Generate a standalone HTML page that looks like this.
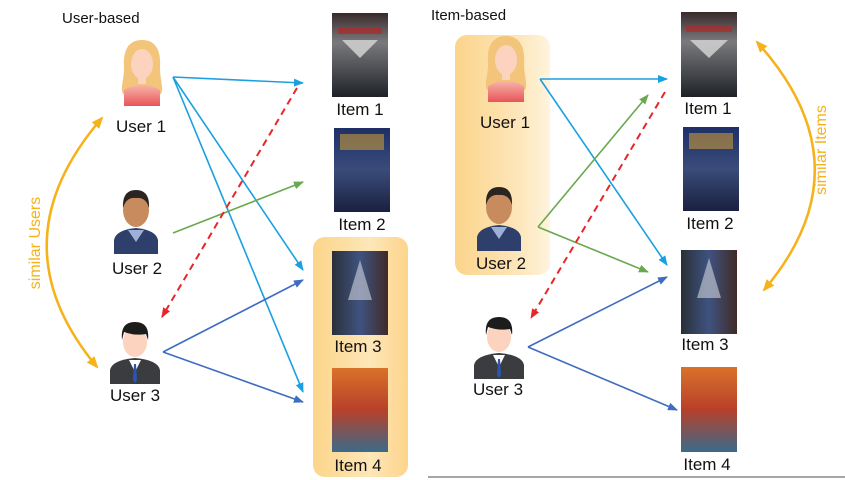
<!DOCTYPE html>
<html><head><meta charset="utf-8"><style>
html,body{margin:0;padding:0;background:#fff;}
svg{display:block;font-family:"Liberation Sans",sans-serif;}
</style></head><body>
<svg width="845" height="480" viewBox="0 0 845 480" xmlns="http://www.w3.org/2000/svg">
<defs>
<linearGradient id="hl" x1="0" y1="0" x2="1" y2="0">
<stop offset="0" stop-color="#fcd58a"/><stop offset="0.6" stop-color="#fde6b8"/><stop offset="1" stop-color="#fdd48c"/>
</linearGradient>
<linearGradient id="hl2" x1="0" y1="0" x2="1" y2="0">
<stop offset="0" stop-color="#fcd48a"/><stop offset="0.7" stop-color="#fde7bd"/><stop offset="1" stop-color="#fff4dd"/>
</linearGradient>
<linearGradient id="p1" x1="0" y1="0" x2="0" y2="1"><stop offset="0" stop-color="#3a2a2a"/><stop offset="0.35" stop-color="#7a7a7e"/><stop offset="1" stop-color="#1e2226"/></linearGradient>
<linearGradient id="p2" x1="0" y1="0" x2="0" y2="1"><stop offset="0" stop-color="#1d2f66"/><stop offset="0.5" stop-color="#3a4c7a"/><stop offset="1" stop-color="#1a2040"/></linearGradient>
<linearGradient id="p3" x1="0" y1="0" x2="1" y2="0"><stop offset="0" stop-color="#2a3038"/><stop offset="0.5" stop-color="#3f5380"/><stop offset="1" stop-color="#402a26"/></linearGradient>
<linearGradient id="p4" x1="0" y1="0" x2="0" y2="1"><stop offset="0" stop-color="#d9722a"/><stop offset="0.5" stop-color="#b8402a"/><stop offset="1" stop-color="#3a6a8a"/></linearGradient>
<linearGradient id="pink" x1="0" y1="0" x2="0" y2="1"><stop offset="0" stop-color="#f7b5a8"/><stop offset="1" stop-color="#e9545a"/></linearGradient>
<marker id="ab" markerWidth="10" markerHeight="8" refX="9" refY="4" orient="auto" markerUnits="userSpaceOnUse"><path d="M0,0 L10,4 L0,8 z" fill="#1aa0e0"/></marker>
<marker id="ag" markerWidth="10" markerHeight="8" refX="9" refY="4" orient="auto" markerUnits="userSpaceOnUse"><path d="M0,0 L10,4 L0,8 z" fill="#6aa84f"/></marker>
<marker id="ar" markerWidth="10" markerHeight="8" refX="9" refY="4" orient="auto" markerUnits="userSpaceOnUse"><path d="M0,0 L10,4 L0,8 z" fill="#e8262a"/></marker>
<marker id="ad" markerWidth="10" markerHeight="8" refX="9" refY="4" orient="auto" markerUnits="userSpaceOnUse"><path d="M0,0 L10,4 L0,8 z" fill="#3f6cc0"/></marker>
<marker id="ao" markerWidth="12" markerHeight="10" refX="10" refY="5" orient="auto-start-reverse" markerUnits="userSpaceOnUse"><path d="M0,0 L12,5 L0,10 z" fill="#f5b21a"/></marker>
<g id="fem">
<path d="M24,0 C8,0 5,14 6,28 C6,40 2,48 5,54 L43,54 C46,48 42,40 42,28 C43,14 40,0 24,0z" fill="#f2c57a"/>
<ellipse cx="24" cy="24" rx="11" ry="15" fill="#fbd3bf"/>
<rect x="20" y="36" width="8" height="8" fill="#fbd3bf"/>
<path d="M6,50 Q24,40 42,50 L42,66 L6,66z" fill="url(#pink)"/>
</g>
<g id="m2">
<path d="M2,66 L2,52 Q4,42 24,40 Q44,42 46,52 L46,66z" fill="#2f3f6c"/>
<path d="M16,42 L24,54 L32,42z" fill="#9fb0d8"/>
<ellipse cx="24" cy="22" rx="13" ry="17" fill="#c78b5e"/>
<path d="M11,20 Q10,2 24,2 Q38,2 37,20 Q34,9 24,10 Q14,9 11,20z" fill="#2a2520"/>
</g>
<g id="m3">
<path d="M0,64 L0,50 Q2,40 25,38 Q48,40 50,50 L50,64z" fill="#3a3c40"/>
<path d="M19,40 L25,52 L31,40z" fill="#ffffff"/>
<path d="M24,44 L26,44 L27,60 L25,63 L23,60z" fill="#2a56b0"/>
<ellipse cx="25" cy="22" rx="12" ry="15" fill="#fbd3bf"/>
<path d="M12,20 Q10,2 25,2 Q40,2 38,20 L36,14 Q25,16 14,12z" fill="#1c1c1c"/>
</g>
</defs>

<rect width="845" height="480" fill="#fff"/>
<line x1="428" y1="477" x2="845" y2="477" stroke="#888" stroke-width="1.5"/>

<!-- LEFT PANEL -->
<text x="62" y="23" font-size="15" fill="#111">User-based</text>
<rect x="313" y="237" width="95" height="240" rx="12" fill="url(#hl)"/>
<use href="#fem" x="118" y="40"/>
<text x="141" y="132" font-size="17" text-anchor="middle" fill="#111">User 1</text>
<use href="#m2" x="112" y="188"/>
<text x="137" y="274" font-size="17" text-anchor="middle" fill="#111">User 2</text>
<use href="#m3" x="110" y="320"/>
<text x="135" y="401" font-size="17" text-anchor="middle" fill="#111">User 3</text>

<rect x="332" y="13" width="56" height="84" fill="url(#p1)"/>
<path d="M342,40 L378,40 L360,58z" fill="#d8d8d8" opacity="0.8"/><rect x="338" y="28" width="44" height="6" fill="#c02020" opacity="0.6"/>
<text x="360" y="115" font-size="17" text-anchor="middle" fill="#111">Item 1</text>
<rect x="334" y="128" width="56" height="84" fill="url(#p2)"/>
<rect x="340" y="134" width="44" height="16" fill="#c89a3a" opacity="0.6"/>
<text x="362" y="230" font-size="17" text-anchor="middle" fill="#111">Item 2</text>
<rect x="332" y="251" width="56" height="84" fill="url(#p3)"/>
<path d="M360,260 L372,300 L348,300z" fill="#d0d4dc" opacity="0.6"/>
<text x="358" y="352" font-size="17" text-anchor="middle" fill="#111">Item 3</text>
<rect x="332" y="368" width="56" height="84" fill="url(#p4)"/>
<text x="358" y="471" font-size="17" text-anchor="middle" fill="#111">Item 4</text>

<g fill="none" stroke-width="1.6">
<line x1="173" y1="77" x2="303" y2="83" stroke="#1aa0e0" marker-end="url(#ab)"/>
<line x1="173" y1="77" x2="303" y2="270" stroke="#1aa0e0" marker-end="url(#ab)"/>
<line x1="173" y1="77" x2="303" y2="392" stroke="#1aa0e0" marker-end="url(#ab)"/>
<line x1="173" y1="233" x2="303" y2="182" stroke="#6aa84f" marker-end="url(#ag)"/>
<line x1="297" y1="88" x2="162" y2="317" stroke="#e8262a" stroke-width="2" stroke-dasharray="7,5" marker-end="url(#ar)"/>
<line x1="163" y1="352" x2="303" y2="280" stroke="#3f6cc0" marker-end="url(#ad)"/>
<line x1="163" y1="352" x2="303" y2="402" stroke="#3f6cc0" marker-end="url(#ad)"/>
<path d="M102,118 Q-6,243 97,367" stroke="#f5b21a" stroke-width="2.5" marker-start="url(#ao)" marker-end="url(#ao)"/>
</g>
<text transform="translate(40,243) rotate(-90)" font-size="16" text-anchor="middle" fill="#f5b21a">similar Users</text>

<!-- RIGHT PANEL -->
<text x="431" y="20" font-size="15" fill="#111">Item-based</text>
<rect x="455" y="35" width="95" height="240" rx="12" fill="url(#hl2)"/>
<use href="#fem" x="482" y="36"/>
<text x="505" y="128" font-size="17" text-anchor="middle" fill="#111">User 1</text>
<use href="#m2" x="475" y="185"/>
<text x="501" y="269" font-size="17" text-anchor="middle" fill="#111">User 2</text>
<use href="#m3" x="474" y="315"/>
<text x="498" y="395" font-size="17" text-anchor="middle" fill="#111">User 3</text>

<rect x="681" y="12" width="56" height="85" fill="url(#p1)"/>
<path d="M690,40 L728,40 L709,58z" fill="#d8d8d8" opacity="0.8"/><rect x="686" y="26" width="46" height="6" fill="#c02020" opacity="0.6"/>
<text x="708" y="114" font-size="17" text-anchor="middle" fill="#111">Item 1</text>
<rect x="683" y="127" width="56" height="84" fill="url(#p2)"/>
<rect x="689" y="133" width="44" height="16" fill="#c89a3a" opacity="0.6"/>
<text x="710" y="229" font-size="17" text-anchor="middle" fill="#111">Item 2</text>
<rect x="681" y="250" width="56" height="84" fill="url(#p3)"/>
<path d="M709,258 L721,298 L697,298z" fill="#d0d4dc" opacity="0.6"/>
<text x="705" y="350" font-size="17" text-anchor="middle" fill="#111">Item 3</text>
<rect x="681" y="367" width="56" height="85" fill="url(#p4)"/>
<text x="707" y="470" font-size="17" text-anchor="middle" fill="#111">Item 4</text>

<g fill="none" stroke-width="1.6">
<line x1="540" y1="79" x2="667" y2="79" stroke="#1aa0e0" marker-end="url(#ab)"/>
<line x1="540" y1="79" x2="667" y2="265" stroke="#1aa0e0" marker-end="url(#ab)"/>
<line x1="538" y1="227" x2="648" y2="95" stroke="#6aa84f" marker-end="url(#ag)"/>
<line x1="538" y1="227" x2="648" y2="272" stroke="#6aa84f" marker-end="url(#ag)"/>
<line x1="665" y1="92" x2="531" y2="318" stroke="#e8262a" stroke-width="2" stroke-dasharray="7,5" marker-end="url(#ar)"/>
<line x1="528" y1="347" x2="667" y2="277" stroke="#3f6cc0" marker-end="url(#ad)"/>
<line x1="528" y1="347" x2="677" y2="410" stroke="#3f6cc0" marker-end="url(#ad)"/>
<path d="M757,42 Q869,166 764,290" stroke="#f5b21a" stroke-width="2.5" marker-start="url(#ao)" marker-end="url(#ao)"/>
</g>
<text transform="translate(826,150) rotate(-90)" font-size="16" text-anchor="middle" fill="#f5b21a">similar Items</text>
</svg>
</body></html>
